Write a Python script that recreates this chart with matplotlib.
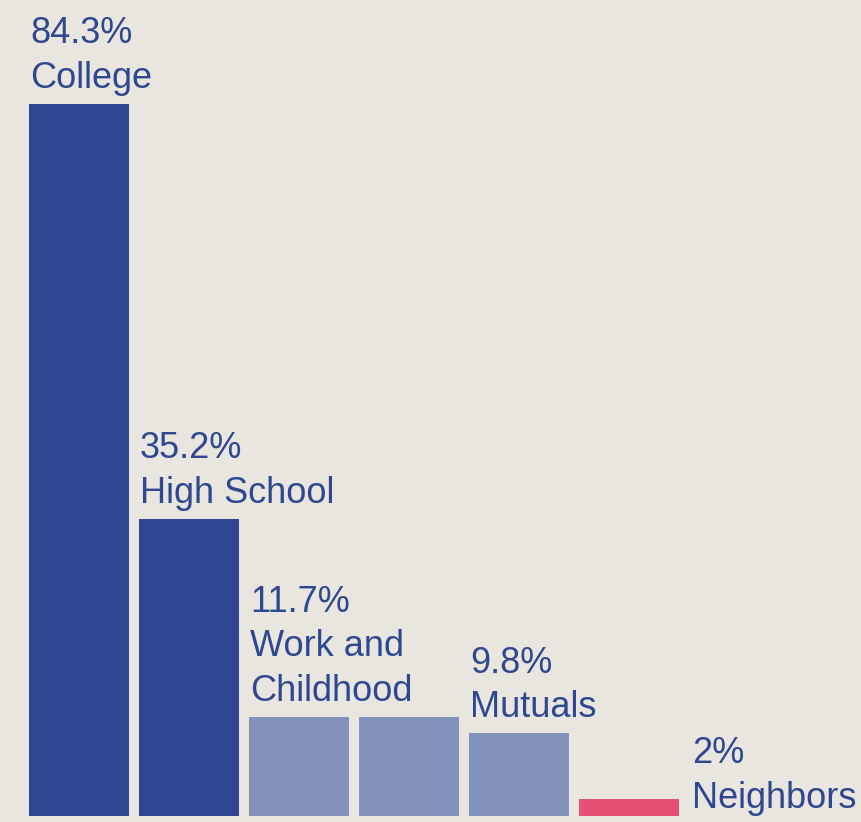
import matplotlib
matplotlib.use("Agg")
import matplotlib.pyplot as plt

plt.rcParams['font.family'] = ['Liberation Sans', 'DejaVu Sans']

values = [84.3, 35.2, 11.7, 11.7, 9.8, 2.0]
colors = ['#2E4790', '#2E4790', '#8392BD', '#8392BD', '#8392BD', '#E65075']
# label for bars 3/4 is shared
labels = [(0, "84.3%\nCollege"),
          (1, "35.2%\nHigh School"),
          (2, "11.7%\nWork and\nChildhood"),
          (4, "9.8%\nMutuals")]
side_label = (5, "2%\nNeighbors")

bg = '#E9E6E0'
text_col = '#2E4790'

fig = plt.figure(figsize=(8.61, 8.22), dpi=100, facecolor=bg)
ax = fig.add_axes([24 / 861, 6 / 822, 660 / 861, 816 / 822])
ax.set_facecolor(bg)

w = 100 / 110
x = list(range(len(values)))
ax.bar(x, values, width=w, color=colors, align='center')
ax.set_xlim(-0.5, 5.5)
ax.set_ylim(0, 816 / 8.446)
ax.axis('off')

for i, txt in labels:
    ax.annotate(txt, xy=(i - w / 2, values[i]), xytext=(1, 8), textcoords='offset pixels',
                ha='left', va='bottom', fontsize=26, color=text_col, linespacing=1.36)

i, txt = side_label
ax.annotate(txt, xy=(i + w / 2, 0), xytext=(13, 0), textcoords='offset pixels',
            ha='left', va='bottom', fontsize=26, color=text_col, linespacing=1.36,
            annotation_clip=False)

plt.savefig("out.png", dpi=100, facecolor=bg)
